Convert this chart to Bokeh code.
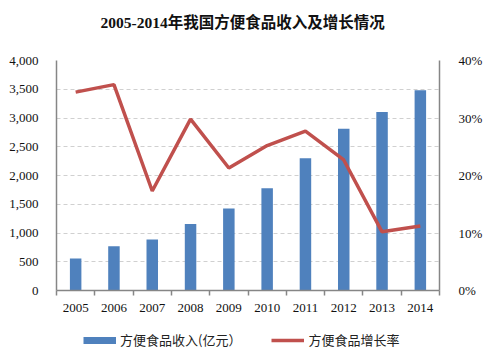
from bokeh.plotting import figure
from bokeh.layouts import column
from bokeh.models import (Range1d, LinearAxis, FixedTicker, NumeralTickFormatter,
                          PrintfTickFormatter, Legend, LegendItem, ColumnDataSource, Label)
from bokeh.embed import file_html
from bokeh.resources import INLINE

years = ["2005", "2006", "2007", "2008", "2009", "2010", "2011", "2012", "2013", "2014"]
income = [555, 768, 885, 1158, 1425, 1780, 2302, 2814, 3105, 3483]
growth = [34.5, 35.8, 17.3, 29.8, 21.3, 25.2, 27.7, 22.7, 10.2, 11.2]

title_text = "2005-2014年我国方便食品收入及增长情况"
bar_name = "方便食品收入(亿元）"
line_name = "方便食品增长率"

BLUE = "#4F81BD"
RED = "#C0504D"
AXIS = "#868686"
SERIF = "Liberation Serif, Times New Roman, serif"
CJK = "Noto Sans CJK SC"

xs = [i + 0.5 for i in range(len(years))]
src = ColumnDataSource(dict(x=xs, income=income, growth=growth))

def strip(h):
    f = figure(width=490, height=h, output_backend="svg", toolbar_location=None,
               x_range=Range1d(0, 1), y_range=Range1d(0, 1),
               min_border_left=56, min_border_right=51, min_border_top=0, min_border_bottom=0,
               outline_line_color=None)
    f.axis.visible = False
    f.grid.visible = False
    return f

# title strip
tp = strip(40)
tp.add_layout(Label(x=0.486, y=0.45, text=title_text, text_align="center",
                    text_baseline="middle", text_font="Liberation Serif, " + CJK,
                    text_font_size="15.5px", text_font_style="bold", text_color="#111111"))

# main chart
p = figure(width=490, height=282, output_backend="svg", toolbar_location=None,
           x_range=Range1d(0, len(years)), y_range=Range1d(0, 4000),
           min_border_left=56, min_border_right=51, min_border_top=20,
           min_border_bottom=32, outline_line_color=None)
p.extra_y_ranges = {"pct": Range1d(0, 40)}

bars = p.vbar(x="x", top="income", width=0.3, source=src, fill_color=BLUE, line_color=None)
ln = p.line(x="x", y="growth", source=src, y_range_name="pct", line_color=RED, line_width=3.5)

xa = p.xaxis[0]
xa.ticker = FixedTicker(ticks=xs, minor_ticks=list(range(len(years) + 1)))
xa.major_label_overrides = {x: y for x, y in zip(xs, years)}
xa.major_tick_line_color = None
xa.minor_tick_in = 0
xa.minor_tick_out = 5
xa.minor_tick_line_color = AXIS
xa.minor_tick_line_width = 1.5
xa.axis_line_color = AXIS
xa.axis_line_width = 1.5
xa.major_label_text_font = SERIF
xa.major_label_text_font_size = "13px"
xa.major_label_text_color = "#111111"
xa.major_label_standoff = 7

ya = p.yaxis[0]
ya.ticker = FixedTicker(ticks=list(range(0, 4001, 500)))
ya.formatter = NumeralTickFormatter(format="0,0")
ya.major_tick_line_color = None
ya.minor_tick_line_color = None
ya.axis_line_color = AXIS
ya.axis_line_width = 1.5
ya.major_label_text_font = SERIF
ya.major_label_text_font_size = "13px"
ya.major_label_text_color = "#111111"
ya.major_label_standoff = 12

ra = LinearAxis(y_range_name="pct", ticker=FixedTicker(ticks=[0, 10, 20, 30, 40]),
                formatter=PrintfTickFormatter(format="%d%%"))
ra.major_tick_line_color = None
ra.minor_tick_line_color = None
ra.axis_line_color = AXIS
ra.axis_line_width = 1.5
ra.major_label_text_font = SERIF
ra.major_label_text_font_size = "13px"
ra.major_label_text_color = "#111111"
ra.major_label_standoff = 13
p.add_layout(ra, "right")

p.xgrid.visible = False
p.ygrid.ticker = FixedTicker(ticks=list(range(500, 4001, 500)))
p.ygrid.grid_line_color = "#d0d0d0"
p.ygrid.grid_line_dash = "4 3"
p.ygrid.grid_line_width = 1

# legend strip (proxies use the real data, drawn outside the strip's visible range)
lg = strip(33)
lg.x_range = Range1d(0, len(years))
lg.y_range = Range1d(-2, -1)
proxy_bar = lg.line(x="x", y="income", source=src, line_color=BLUE, line_width=7)
proxy_line = lg.line(x="x", y="growth", source=src, line_color=RED, line_width=3.5)
legend = Legend(items=[LegendItem(label=bar_name, renderers=[proxy_bar]),
                       LegendItem(label=line_name, renderers=[proxy_line])],
                orientation="horizontal", location=(27, 6),
                glyph_width=33, glyph_height=18, label_standoff=4, spacing=30,
                padding=0, margin=0, border_line_color=None, background_fill_alpha=0,
                label_text_font=CJK, label_text_font_size="13px", label_text_color="#222222")
lg.add_layout(legend, "center")

open("out.html", "w").write(file_html(column(tp, p, lg, spacing=0), INLINE))
